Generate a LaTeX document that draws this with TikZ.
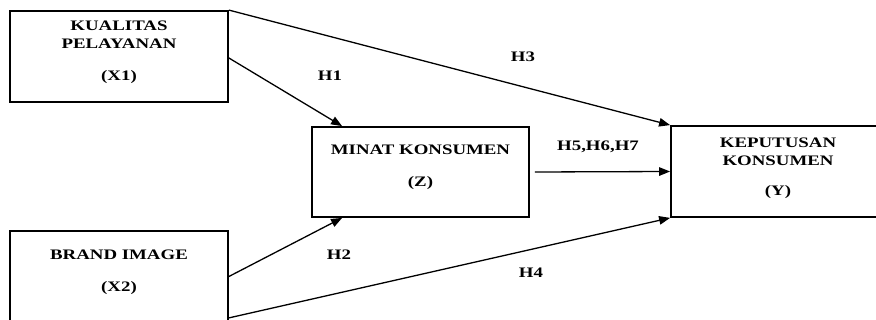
\documentclass[tikz,border=0pt]{standalone}
\usepackage{fontspec}
\setmainfont{Liberation Serif}[FakeStretch=1.3]
\usetikzlibrary{arrows.meta,calc}
\begin{document}
\begin{tikzpicture}[x=1pt,y=-1pt,
  box/.style={draw,line width=1.8pt,minimum width=218pt,minimum height=91pt,inner sep=0pt},
  txt/.style={font=\bfseries\fontsize{14.5}{18}\selectfont,align=center,inner sep=0pt},
  lbl/.style={font=\bfseries\fontsize{14.5}{16}\selectfont,inner sep=0pt},
  arr/.style={line width=1.3pt,-{Triangle[length=11pt,width=8.5pt]}},
  ln/.style={line width=1.3pt}]
\useasboundingbox (0,0) rectangle (876,320);
\begin{scope}
\clip (0,0) rectangle (876,320);
\node[box] (X1) at (119,56.5) {};
\node[box] (X2) at (119,276.5) {};
\node[box,minimum width=217pt,minimum height=90pt] (Z) at (420.5,172) {};
\node[box,minimum width=214pt] (Y) at (778,171.5) {};
\end{scope}
\node[txt] (X1t) at (119,52) {KUALITAS\\PELAYANAN\\[14pt](X1)};
\node[txt] (X2t) at (119,272) {BRAND IMAGE\\[14pt](X2)};
\node[txt] (Zt) at (420.5,167) {MINAT KONSUMEN\\[14pt](Z)};
\node[txt] (Yt) at (778,168) {KEPUTUSAN\\KONSUMEN\\[12pt](Y)};
\node[lbl] (h1) at (330,76) {H1};
\node[lbl] (h3) at (523,57) {H3};
\node[lbl] (h2) at (339,255) {H2};
\node[lbl] (h4) at (531,273) {H4};
\node[lbl] (h5) at (598,147) {H5,H6,H7};
\coordinate (x1e) at ($(X1.east)+(0,1.5)$);
\coordinate (zn) at ($(Z.north west)+(31,0)$);
\coordinate (zs) at ($(Z.south west)+(31,0)$);
\coordinate (x2b) at ($(X2.south east)+(0,-5)$);
\coordinate (ze) at ($(Z.east)+(5,0)$);
\draw[arr] (X1.north east) -- (Y.north west);
\draw[arr] (x1e) -- (zn);
\draw[arr] (X2.east) -- (zs);
\draw[arr] (x2b) -- (Y.south west);
\draw[arr] (ze) -- (Y.west);
\end{tikzpicture}
\end{document}
